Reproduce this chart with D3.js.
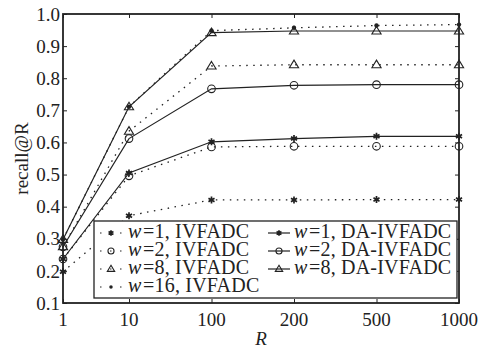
<!DOCTYPE html>
<html>
<head>
<meta charset="utf-8">
<script src="https://cdn.jsdelivr.net/npm/d3@7"></script>
<style>
  body { margin: 0; background: #fff; }
  text { font-family: "Liberation Serif", "Times New Roman", serif; fill: #222; }
</style>
</head>
<body>
<div id="chart"></div>
<script>
var margin = { top: 14, right: 35, bottom: 47, left: 63 },
  width = 494 - margin.left - margin.right,
  height = 350 - margin.top - margin.bottom;

// R values and where they sit on the x axis (the original plot squeezes the first gap)
var rLabels = ["1", "10", "100", "200", "500", "1000"];
var rPos = [0, 0.8, 1.8, 2.8, 3.8, 4.8];
var yTicks = [0.1, 0.2, 0.3, 0.4, 0.5, 0.6, 0.7, 0.8, 0.9, 1.0];

// recall@R per series
var ivf_w1 = [0.197, 0.372, 0.421, 0.421, 0.422, 0.422];
var ivf_w2 = [0.237, 0.496, 0.586, 0.588, 0.588, 0.588];
var ivf_w8 = [0.275, 0.635, 0.838, 0.842, 0.842, 0.842];
var ivf_w16 = [0.298, 0.711, 0.948, 0.957, 0.964, 0.967];
var da_w1 = [0.237, 0.505, 0.602, 0.612, 0.619, 0.619];
var da_w2 = [0.275, 0.612, 0.767, 0.778, 0.780, 0.780];
var da_w8 = [0.298, 0.711, 0.942, 0.947, 0.947, 0.947];

var series = [
  { name: "1, IVFADC", values: ivf_w1, marker: "star", dotted: true },
  { name: "2, IVFADC", values: ivf_w2, marker: "circle", dotted: true },
  { name: "8, IVFADC", values: ivf_w8, marker: "triangle", dotted: true },
  { name: "16, IVFADC", values: ivf_w16, marker: "dot", dotted: true },
  { name: "1, DA-IVFADC", values: da_w1, marker: "star", dotted: false },
  { name: "2, DA-IVFADC", values: da_w2, marker: "circle", dotted: false },
  { name: "8, DA-IVFADC", values: da_w8, marker: "triangle", dotted: false },
];

var svg = d3
  .select("#chart")
  .append("svg")
  .attr("width", width + margin.left + margin.right)
  .attr("height", height + margin.top + margin.bottom)
  .append("g")
  .attr("transform", "translate(" + margin.left + "," + margin.top + ")");

var x = d3.scaleLinear().domain([0, 4.8]).range([0, width]);
var y = d3.scaleLinear().domain([0.1, 1.0]).range([height, 0]);

function drawMarker(g, type, cx, cy, k) {
  k = k || 1;
  if (type === "circle") {
    g.append("circle").attr("cx", cx).attr("cy", cy).attr("r", 3.8 * k)
      .attr("fill", "none").attr("stroke", "#222").attr("stroke-width", 1.1);
  } else if (type === "dot") {
    g.append("circle").attr("cx", cx).attr("cy", cy).attr("r", 2.2 * k)
      .attr("fill", "#222");
  } else if (type === "triangle") {
    var s = 4.6 * k;
    g.append("path")
      .attr("d", "M" + cx + "," + (cy - s) + "L" + (cx + s) + "," + (cy + s * 0.65) +
        "L" + (cx - s) + "," + (cy + s * 0.65) + "Z")
      .attr("fill", "none").attr("stroke", "#222").attr("stroke-width", 1.1);
  } else {
    g.append("path")
      .attr("transform", "translate(" + cx + "," + cy + ")")
      .attr("d", d3.symbol().type(d3.symbolAsterisk).size(34 * k * k)())
      .attr("fill", "none").attr("stroke", "#222").attr("stroke-width", 1.7);
  }
}

// axes: inward ticks on all four sides
var xAxisB = d3.axisBottom(x).tickValues(rPos).tickSize(-4).tickFormat("");
var xAxisT = d3.axisTop(x).tickValues(rPos).tickSize(-4).tickFormat("");
var yAxisL = d3.axisLeft(y).tickValues(yTicks).tickSize(-4).tickFormat("");
var yAxisR = d3.axisRight(y).tickValues(yTicks).tickSize(-4).tickFormat("");

svg.append("g").attr("class", "axis").attr("transform", "translate(0," + height + ")").call(xAxisB);
svg.append("g").attr("class", "axis").call(xAxisT);
svg.append("g").attr("class", "axis").call(yAxisL);
svg.append("g").attr("class", "axis").attr("transform", "translate(" + width + ",0)").call(yAxisR);
svg.selectAll(".axis .domain").remove();
svg.selectAll(".axis line").attr("stroke", "#222").attr("stroke-width", 1);

svg.append("rect")
  .attr("width", width).attr("height", height)
  .attr("fill", "none").attr("stroke", "#222").attr("stroke-width", 1.8);

// tick labels
svg.selectAll(".xlab")
  .data(rLabels)
  .enter()
  .append("text")
  .attr("class", "xlab")
  .attr("x", (d, i) => x(rPos[i]))
  .attr("y", height + 23)
  .attr("text-anchor", "middle")
  .style("font-size", "19px")
  .text((d) => d);

svg.selectAll(".ylab")
  .data(yTicks)
  .enter()
  .append("text")
  .attr("class", "ylab")
  .attr("x", -3)
  .attr("y", (d) => y(d))
  .attr("dy", "0.35em")
  .attr("text-anchor", "end")
  .style("font-size", "19px")
  .text((d) => d3.format(".1f")(d));

svg.append("text")
  .attr("x", x(2.4))
  .attr("y", height + 42)
  .attr("text-anchor", "middle")
  .style("font-size", "19px")
  .style("font-style", "italic")
  .text("R");

svg.append("text")
  .attr("transform", "rotate(-90)")
  .attr("x", -height / 2)
  .attr("y", -35)
  .attr("text-anchor", "middle")
  .style("font-size", "19px")
  .text("recall@R");

// lines + markers
var line = d3.line()
  .x((d, i) => x(rPos[i]))
  .y((d) => y(d));

series.forEach(function (s) {
  svg.append("path")
    .datum(s.values)
    .attr("d", line)
    .attr("fill", "none")
    .attr("stroke", "#222")
    .attr("stroke-width", s.dotted ? 1.3 : 1.2)
    .attr("stroke-dasharray", s.dotted ? "1.5,5.5" : null);
  var g = svg.append("g");
  s.values.forEach(function (v, i) {
    drawMarker(g, s.marker, x(rPos[i]), y(v));
  });
});

// legend
var lx = 94 - margin.left, ly = 221 - margin.top;
var legend = svg.append("g");
legend.append("rect")
  .attr("x", lx).attr("y", ly)
  .attr("width", 457 - 94).attr("height", 298 - 221)
  .attr("fill", "#fff").attr("stroke", "#222").attr("stroke-width", 1.3);

series.forEach(function (s, i) {
  var col = s.dotted ? 0 : 1;
  var row = s.dotted ? i : i - 4;
  var x0 = col === 0 ? lx + 6 : 268 - margin.left;
  var tx = col === 0 ? 128 - margin.left : 294 - margin.left;
  var base = ly + 17 + row * 18;
  var my = base - 5;
  legend.append("line")
    .attr("x1", x0).attr("x2", x0 + 22)
    .attr("y1", my).attr("y2", my)
    .attr("stroke", "#222")
    .attr("stroke-width", 1.2)
    .attr("stroke-dasharray", s.dotted ? "1.5,8.5" : null);
  drawMarker(legend, s.marker, x0 + 11, my, 0.8);
  // italic w and the rest as two separate texts
  legend.append("text")
    .attr("x", tx).attr("y", base)
    .style("font-size", "20px")
    .style("font-style", "italic")
    .text("w");
  legend.append("text")
    .attr("x", tx + 15).attr("y", base)
    .style("font-size", "20px")
    .style("letter-spacing", "0.2px")
    .text("=" + s.name);
});
</script>
</body>
</html>
